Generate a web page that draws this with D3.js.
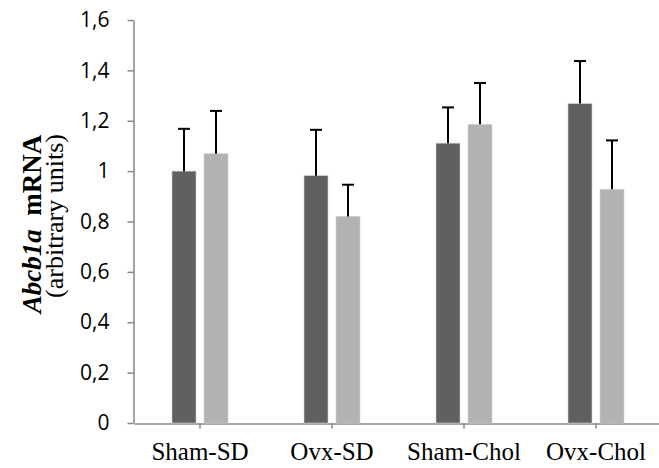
<!DOCTYPE html>
<html>
<head>
<meta charset="utf-8">
<script src="https://cdn.jsdelivr.net/npm/d3@7"></script>
<style>
  body { margin: 0; background: #fff; }
  svg { display: block; }
</style>
</head>
<body>
<div id="chart"></div>
<script>
const categories = ["Sham-SD", "Ovx-SD", "Sham-Chol", "Ovx-Chol"];
const seriesNames = ["A", "B"];
const valuesA = [1.00, 0.982, 1.111, 1.268];
const valuesB = [1.069, 0.82, 1.186, 0.928];
const errA = [0.168, 0.182, 0.142, 0.169];
const errB = [0.170, 0.126, 0.164, 0.194];
const yTicks = [0, 0.2, 0.4, 0.6, 0.8, 1, 1.2, 1.4, 1.6];
const colors = ["#606060", "#b2b2b2"];

const width = 659, height = 468;
const margin = { top: 20, right: -3, bottom: 45, left: 134 };
const serif = "'Liberation Serif', 'Times New Roman', serif";

const svg = d3.select("#chart").append("svg")
    .attr("width", width)
    .attr("height", height);

const x = d3.scaleBand()
    .domain(categories)
    .range([margin.left, width - margin.right]);

const x1 = d3.scaleBand()
    .domain(seriesNames)
    .range([0, 56])
    .paddingInner(0.25);

const y = d3.scaleLinear()
    .domain([0, 1.6])
    .range([height - margin.bottom, margin.top]);

const fmt = d => String(d).replace(".", ",");

// y axis
const yAxis = svg.append("g")
    .attr("transform", `translate(${margin.left - 0.5},0)`)
    .call(d3.axisLeft(y).tickValues(yTicks).tickFormat(fmt).tickSize(6).tickSizeOuter(0).tickPadding(18));
yAxis.attr("font-size", null).attr("font-family", null);
yAxis.select(".domain").attr("stroke", "#868686").attr("stroke-width", 1.5);
yAxis.selectAll(".tick line").attr("stroke", "#868686").attr("stroke-width", 1.5);
yAxis.selectAll(".tick text")
    .style("font-family", "'Open Sans', sans-serif")
    .style("font-size", "21px")
    .attr("fill", "#000");

// x axis
const xAxis = svg.append("g")
    .attr("transform", `translate(0,${y(0) + 0.5})`)
    .call(d3.axisBottom(x).tickSize(5).tickSizeOuter(0).tickPadding(14));
xAxis.attr("font-size", null).attr("font-family", null);
xAxis.select(".domain").attr("stroke", "#868686").attr("stroke-width", 1.5);
xAxis.selectAll(".tick line").attr("stroke", "#868686").attr("stroke-width", 1.5);
xAxis.selectAll(".tick text")
    .style("font-family", serif)
    .style("font-size", "25px")
    .attr("fill", "#000");

const data = categories.map((c, i) => ({
  cat: c,
  bars: [
    { s: "A", v: valuesA[i], e: errA[i] },
    { s: "B", v: valuesB[i], e: errB[i] }
  ]
}));

const groups = svg.append("g").selectAll("g")
    .data(data)
    .join("g")
    .attr("transform", d => `translate(${x(d.cat) + x.bandwidth() / 2 - 28},0)`);

groups.selectAll("rect")
    .data(d => d.bars)
    .join("rect")
    .attr("x", d => x1(d.s))
    .attr("y", d => y(d.v))
    .attr("width", x1.bandwidth())
    .attr("height", d => y(0) - y(d.v))
    .attr("fill", (d, i) => colors[i])
    .attr("stroke", "#d0d0d0")
    .attr("stroke-width", 0.6);

// error bars (upper only)
groups.selectAll("line.err")
    .data(d => d.bars)
    .join("line")
    .attr("class", "err")
    .attr("x1", d => x1(d.s) + x1.bandwidth() / 2)
    .attr("x2", d => x1(d.s) + x1.bandwidth() / 2)
    .attr("y1", d => y(d.v))
    .attr("y2", d => y(d.v + d.e))
    .attr("stroke", "#000")
    .attr("stroke-width", 2);

groups.selectAll("line.cap")
    .data(d => d.bars)
    .join("line")
    .attr("class", "cap")
    .attr("x1", d => x1(d.s) + x1.bandwidth() / 2 - 6)
    .attr("x2", d => x1(d.s) + x1.bandwidth() / 2 + 6)
    .attr("y1", d => y(d.v + d.e))
    .attr("y2", d => y(d.v + d.e))
    .attr("stroke", "#000")
    .attr("stroke-width", 2);

// y label
const label = svg.append("text")
    .attr("transform", "translate(41,224) rotate(-90)")
    .attr("text-anchor", "middle")
    .style("font-family", serif)
    .style("font-size", "27px")
    .style("font-weight", "bold");
label.append("tspan").style("font-style", "italic").text("Abcb1a");
label.append("tspan").text("\u00a0 mRNA");

svg.append("text")
    .attr("transform", "translate(63,216) rotate(-90)")
    .attr("text-anchor", "middle")
    .style("font-family", serif)
    .style("font-size", "26px")
    .text("(arbitrary units)");
</script>
</body>
</html>
